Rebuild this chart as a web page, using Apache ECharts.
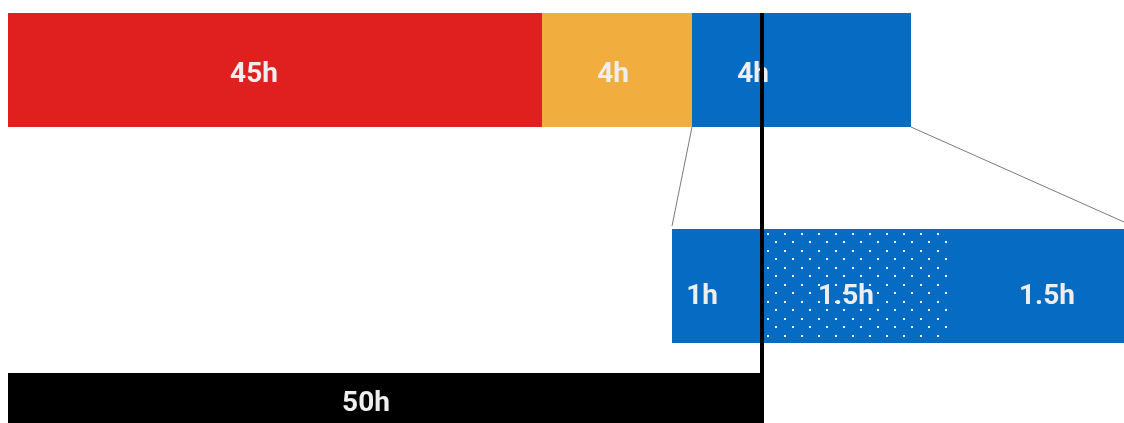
<!DOCTYPE html>
<html>
<head>
<meta charset="utf-8">
<title>Hours breakdown</title>
<script src="https://cdn.jsdelivr.net/npm/echarts@6/dist/echarts.min.js"></script>
<style>
  html, body { margin: 0; padding: 0; background: #ffffff; }
  #chart { width: 1124px; height: 423px; }
</style>
</head>
<body>
<div id="chart"></div>
<script>
// Schematic timeline: breakpoints are in timeline units (not to scale with hours)
const topLabels = ['45h', '4h', '4h'];
const topEdges = [8, 542, 692, 911];

const detailLabels = ['1h', '1.5h', '1.5h'];
const detailEdges = [672, 763, 952, 1124];

const totalLabels = ['50h'];
const totalEdges = [8, 764];

// Layout and styling
const rows = [
  { y0: 13, y1: 127, labelY: 75 },   // overall split
  { y0: 229, y1: 343, labelY: 297 }, // breakdown of the last block
  { y0: 373, y1: 423, labelY: 404 }  // total
];
const labelX = {
  top: [254, 613, 753],
  detail: [702, 846, 1047],
  total: [366]
};
const topColors = ['#e0201e', '#f2ad3f', '#066bc2'];
const detailColors = ['#066bc2', '#066bc2', '#066bc2'];
const detailDotted = [false, true, false];
const totalColors = ['#000000'];

// Dot texture for the highlighted block
function dotPattern() {
  const c = document.createElement('canvas');
  c.width = 17; c.height = 17;
  const g = c.getContext('2d');
  g.fillStyle = 'rgba(255,255,255,0.95)';
  g.fillRect(2, 12, 2, 2);
  g.fillRect(10, 3, 2, 2);
  return c;
}
const pattern = { image: dotPattern(), repeat: 'repeat' };

function buildRow(rowIdx, edges, labels, colors, anchors, dotted) {
  const out = [];
  for (let i = 0; i < labels.length; i++) {
    out.push({
      name: labels[i],
      value: [edges[i], edges[i + 1], rowIdx, anchors[i]],
      color: colors[i],
      dotted: dotted ? dotted[i] : false
    });
  }
  return out;
}

const segments = []
  .concat(buildRow(0, topEdges, topLabels, topColors, labelX.top))
  .concat(buildRow(1, detailEdges, detailLabels, detailColors, labelX.detail, detailDotted))
  .concat(buildRow(2, totalEdges, totalLabels, totalColors, labelX.total));

const chart = echarts.init(document.getElementById('chart'), null, { renderer: 'canvas' });

chart.setOption({
  animation: false,
  backgroundColor: '#ffffff',
  grid: { left: 0, right: 0, top: 0, bottom: 0, containLabel: false },
  xAxis: { type: 'value', min: 0, max: 1124, show: false },
  yAxis: { type: 'value', min: 0, max: 423, inverse: true, show: false },
  series: [
    {
      // connectors from the last top block to its breakdown
      type: 'custom',
      coordinateSystem: 'cartesian2d',
      silent: true,
      z: 1,
      data: [
        [topEdges[2], rows[0].y1, detailEdges[0], rows[1].y0 - 3],
        [topEdges[3], rows[0].y1, detailEdges[3], rows[1].y0 - 7]
      ],
      renderItem: function (params, api) {
        const a = api.coord([api.value(0), api.value(1)]);
        const b = api.coord([api.value(2), api.value(3)]);
        return {
          type: 'line',
          shape: { x1: a[0], y1: a[1], x2: b[0], y2: b[1] },
          style: { stroke: '#7a7a7a', lineWidth: 1 }
        };
      }
    },
    {
      type: 'custom',
      coordinateSystem: 'cartesian2d',
      silent: true,
      z: 2,
      data: segments,
      renderItem: function (params, api) {
        const item = segments[params.dataIndex];
        const r = rows[api.value(2)];
        const p0 = api.coord([api.value(0), r.y0]);
        const p1 = api.coord([api.value(1), r.y1]);
        const lp = api.coord([api.value(3), r.labelY]);
        const shape = { x: p0[0], y: p0[1], width: p1[0] - p0[0], height: p1[1] - p0[1] };
        const children = [
          { type: 'rect', shape: shape, style: { fill: item.color } }
        ];
        if (item.dotted) {
          children.push({
            type: 'rect',
            shape: { x: shape.x, y: shape.y - 1, width: shape.width, height: shape.height + 1 },
            style: { fill: pattern }
          });
        }
        children.push({
          type: 'text',
          x: lp[0], y: lp[1],
          style: {
            text: item.name,
            fill: '#eeeeee',
            font: 'bold 28px Roboto, "Liberation Sans", sans-serif',
            align: 'center',
            verticalAlign: 'middle'
          }
        });
        return { type: 'group', children: children };
      }
    },
    {
      // 50h marker line running down to the total bar
      type: 'custom',
      coordinateSystem: 'cartesian2d',
      silent: true,
      z: 3,
      data: [[totalEdges[1] - 2, rows[0].y0, rows[2].y0]],
      renderItem: function (params, api) {
        const a = api.coord([api.value(0), api.value(1)]);
        const b = api.coord([api.value(0), api.value(2)]);
        return {
          type: 'line',
          shape: { x1: a[0], y1: a[1], x2: b[0], y2: b[1] },
          style: { stroke: '#000000', lineWidth: 4 }
        };
      }
    }
  ]
});
</script>
</body>
</html>
